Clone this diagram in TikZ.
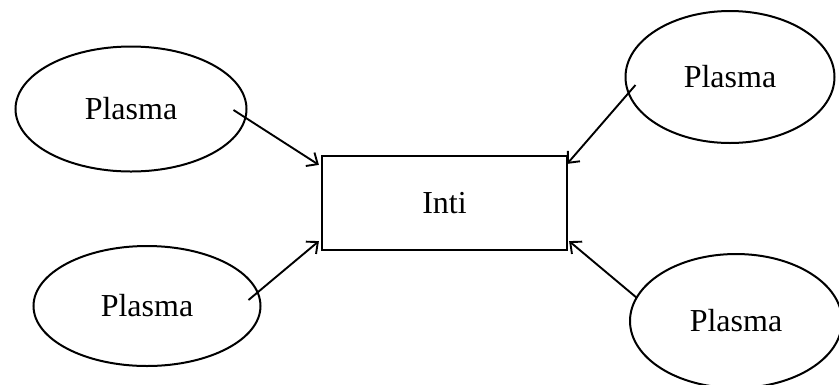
\documentclass[tikz,border=0pt]{standalone}
\usepackage{fontspec}
\setmainfont{Liberation Serif}
\usetikzlibrary{shapes.geometric,arrows.meta,calc}

\tikzset{
  plasma/.style={draw, ellipse, line width=2pt, inner sep=0pt, font=\fontsize{32}{36}\selectfont},
  core/.style={draw, rectangle, line width=2.2pt, inner sep=0pt, minimum width=245pt, minimum height=94pt, font=\fontsize{32}{36}\selectfont},
  link/.style={line width=1.9pt, -{Straight Barb[length=9pt,width=16pt,line width=1.9pt]}}
}

\begin{document}
\begin{tikzpicture}[x=1pt, y=-1pt]
  \useasboundingbox (0,0) rectangle (839,384);

  % central box
  \node[core] (inti) at (444.5,203) {Inti};

  % surrounding ellipses
  \node[plasma, minimum width=231pt, minimum height=125pt] (tl) at (131,109) {Plasma};
  \node[plasma, minimum width=227pt, minimum height=120pt] (bl) at (147,306) {Plasma};
  \node[plasma, minimum width=209pt, minimum height=132pt] (tr) at (730,77) {Plasma};
  \node[plasma, minimum width=212pt, minimum height=134pt] (br) at (736,321) {Plasma};

  % arrows into the box corners
  \draw[link] ($(tl.east)+(-14,1)$) -- ($(inti.north west)+(-2,10)$);
  \draw[link] ($(bl.east)+(-13,-6)$) -- ($(inti.south west)+(-2,-10)$);
  \draw[link] ($(tr.west)+(11,8)$) -- ($(inti.north east)+(-1,9)$);
  \draw[link] ($(br.west)+(8,-23)$) -- ($(inti.south east)+(1,-10)$);
\end{tikzpicture}
\end{document}
